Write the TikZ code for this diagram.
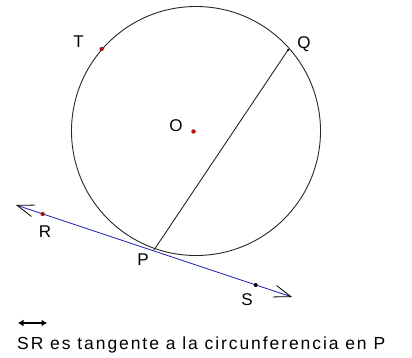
\documentclass[tikz,border=0pt]{standalone}
\usepackage{fontspec}
\setmainfont{Liberation Sans}
\usetikzlibrary{arrows.meta}
\definecolor{lineblue}{RGB}{40,40,190}
\definecolor{dotred}{RGB}{215,0,0}
\begin{document}
\begin{tikzpicture}[x=1pt,y=-1pt,
  lbl/.style={font=\fontsize{17}{17}\selectfont, inner sep=0pt},
  reddot/.style={circle, fill=dotred, draw=black!70, line width=0.3pt, inner sep=0pt, minimum size=4pt},
  blackdot/.style={circle, fill=black, inner sep=0pt, minimum size=4pt},
  thin/.style={line width=0.9pt, draw=black!85}]
\useasboundingbox (0,0) rectangle (412,358);
% circle
\coordinate (C) at (196,131);
\draw[thin] (C) circle[radius=124.5];
% points
\coordinate (Q) at (288,50);
\coordinate (P) at (154,250);
\coordinate (L) at (16,205);
\coordinate (Rt) at (292,297);
% chord
\draw[thin] (Q) -- (P);
% tangent line
\draw[lineblue, line width=0.9pt,
  {Straight Barb[length=17pt,width=12pt,color=black,line width=0.8pt]}-{Straight Barb[length=17pt,width=12pt,color=black,line width=0.8pt]}]
  (L) -- (Rt);
% dots
\node[reddot] (Tdot) at (101.7,49) {};
\node[reddot] (Odot) at (193.5,131.5) {};
\node[reddot] (Rdot) at (42.7,214) {};
\node[blackdot] (Sdot) at (255.7,285) {};
\node[circle, fill=black, inner sep=0pt, minimum size=2.5pt] (Qdot) at (Q) {};
% labels
\node[lbl] (Tl) at (78.5,42) {T};
\node[lbl] (Ql) at (304,44) {Q};
\node[lbl] (Ol) at (176,126) {O};
\node[lbl] (Rl) at (45,231.5) {R};
\node[lbl] (Pl) at (143,260) {P};
\node[lbl] (Sl) at (247,299.5) {S};
% caption
\node[anchor=base west, inner sep=0pt, font=\fontsize{17.5}{17.5}\selectfont\addfontfeature{LetterSpace=11}] (cap) at (17,349) {SR es tangente a la circunferencia en P};
\coordinate (oa) at (18,323);
\coordinate (ob) at (47,323);
\draw[line width=2pt, {Latex[length=5.5pt,width=7pt]}-{Latex[length=5.5pt,width=7pt]}] (oa) -- (ob);
\end{tikzpicture}
\end{document}
